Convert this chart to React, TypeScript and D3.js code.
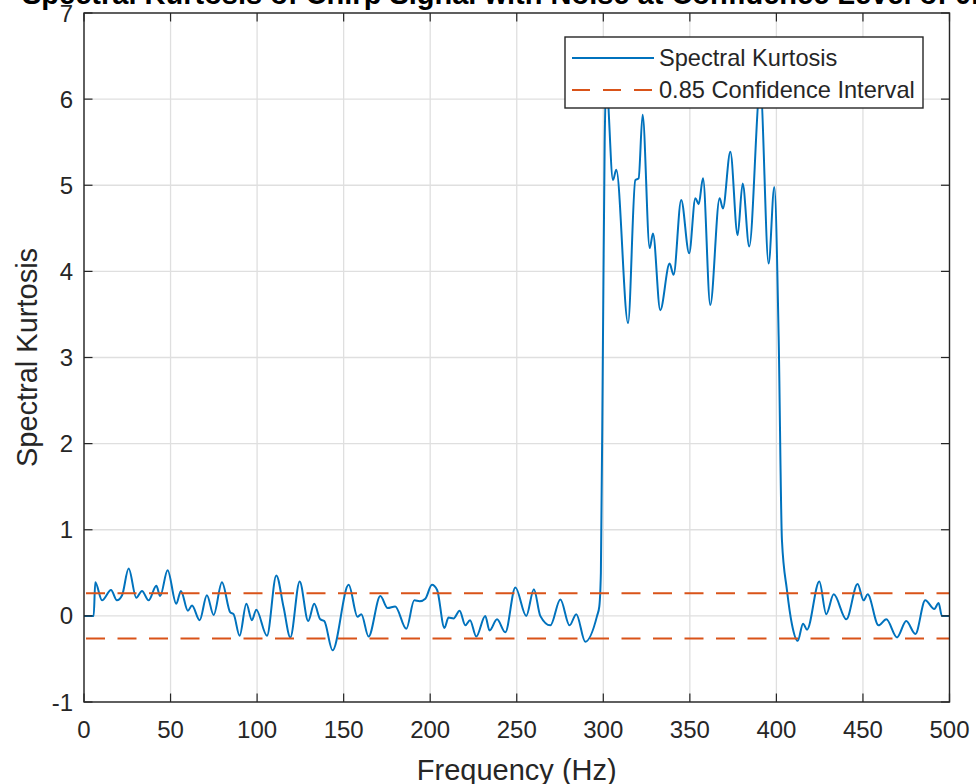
import React from "react";
import * as d3 from "d3";

const freqHz = [
  0, 5.6, 6.5, 10.4, 15.6, 19, 22, 25.8, 30.2, 33.5, 37.3, 41.8, 44, 48.3, 53.3, 56, 60, 62.4, 66.8, 71,
  74.9, 79.7, 84.5, 86.4, 89.9, 93.8, 97, 99.5, 105.7, 111.1, 115.3, 119.2, 124.6, 129.5, 133, 136.5,
  138.8, 143.6, 152.9, 158, 160.2, 164.4, 171.2, 175.4, 179.8, 186.2, 190.8, 193.9, 197.2, 201, 204,
  208.2, 210.6, 213.5, 217, 220.3, 223, 226.6, 231.8, 234.3, 238.6, 243.4, 249.2, 255.5, 259.9, 263.6,
  269.4, 275.2, 280.5, 284.4, 289.6, 296.4, 297.7, 298.6, 299.8, 300.8, 301.7, 305.6, 307.5, 314.3,
  318.5, 320.4, 322.7, 326.8, 328.7, 332.9, 338.3, 340.6, 345, 349.6, 353.2, 355.1, 357.6, 361.8, 367.2,
  369.1, 373.4, 377.6, 380.5, 384.3, 390.7, 395.5, 398.8, 401.3, 403.2, 406.1, 409, 412.3, 415.4, 417.7,
  424.8, 428.8, 433.1, 440.4, 446.9, 450.4, 452.7, 459, 463.5, 469.7, 475, 480.3, 486, 491.2, 493.7,
  495.6, 500,
];

const kurtosis = [
  0, 0, 0.39, 0.18, 0.3, 0.18, 0.24, 0.55, 0.21, 0.29, 0.18, 0.35, 0.23, 0.53, 0.14, 0.29, 0.06, 0.12, -0.05, 0.24,
  0.01, 0.39, 0.04, 0.02, -0.23, 0.14, -0.05, 0.07, -0.23, 0.47, 0.1, -0.25, 0.4, -0.06, 0.14, -0.04,
  -0.06, -0.4, 0.36, -0.01, 0.02, -0.24, 0.23, 0.09, 0.11, -0.15, 0.18, 0.17, 0.2, 0.36, 0.3,
  -0.14, -0.02, -0.03, 0.06, -0.11, -0.05, -0.24, 0.0, -0.17, -0.04, -0.19, 0.33, 0.0, 0.31, 0.0,
  -0.11, 0.19, -0.11, 0.02, -0.3, 0.0, 0.11, 0.5, 3.2, 5.5, 6.2, 5.06, 5.18, 3.4,
  5.06, 5.08, 5.82, 4.27, 4.44, 3.55, 4.09, 3.96, 4.83, 4.21, 4.85, 4.78, 5.08, 3.61, 4.85,
  4.73, 5.39, 4.42, 5.02, 4.29, 6.15, 4.09, 4.98, 3.24, 0.88, 0.3, -0.1, -0.29, -0.09, -0.16,
  0.4, 0.02, 0.25, -0.04, 0.37, 0.18, 0.25, -0.11, -0.04, -0.25, -0.06, -0.21, 0.18, 0.08, 0.15,
  0.0, 0.0,
];

const confidenceBounds = [0.263, -0.263];
const xTicks = [0, 50, 100, 150, 200, 250, 300, 350, 400, 450, 500];
const yTicks = [-1, 0, 1, 2, 3, 4, 5, 6, 7];
const legendLabels = ["Spectral Kurtosis", "0.85 Confidence Interval"];
const titleText = "Spectral Kurtosis of Chirp Signal with Noise at Confidence Level of 0.85";
const xLabel = "Frequency (Hz)";
const yLabel = "Spectral Kurtosis";

const W = 976;
const H = 784;
const left = 84;
const right = 949.5;
const top = 13;
const bottom = 702;
const BLUE = "#0072BD";
const ORANGE = "#D95319";
const AX = "#262626";
const GRID = "#dfdfdf";
const FONT = "'Liberation Sans', Arial, Helvetica, sans-serif";

export default function App() {
  const x = d3.scaleLinear().domain([0, 500]).range([left, right]);
  const y = d3.scaleLinear().domain([-1, 7]).range([bottom, top]);
  const pts: [number, number][] = freqHz.map((f, i) => [f, kurtosis[i]]);
  const line = d3
    .line<[number, number]>()
    .x((d) => x(d[0]))
    .y((d) => y(d[1]))
    .curve(d3.curveMonotoneX);
  const tickLen = 8.5;

  const legX = 565;
  const legY = 37;
  const legW = 358;
  const legH = 71;

  return (
    <svg
      width={W}
      height={H}
      style={{ position: "absolute", left: 0, top: 0, background: "#fff" }}
      fontFamily={FONT}
    >
      <rect x={0} y={0} width={W} height={H} fill="#fff" />
      <defs>
        <clipPath id="plotclip">
          <rect x={left} y={top} width={right - left} height={bottom - top} />
        </clipPath>
      </defs>
      {xTicks.map((t) => (
        <line key={"gx" + t} x1={x(t)} x2={x(t)} y1={top} y2={bottom} stroke={GRID} strokeWidth={1.3} />
      ))}
      {yTicks.map((t) => (
        <line key={"gy" + t} x1={left} x2={right} y1={y(t)} y2={y(t)} stroke={GRID} strokeWidth={1.3} />
      ))}
      <g clipPath="url(#plotclip)">
        <path d={line(pts) || ""} fill="none" stroke={BLUE} strokeWidth={2} strokeLinejoin="round" />
        {confidenceBounds.map((c, i) => (
          <line
            key={"c" + i}
            x1={x(0)}
            x2={x(500)}
            y1={y(c)}
            y2={y(c)}
            stroke={ORANGE}
            strokeWidth={2}
            strokeDasharray="19,12.5"
            strokeDashoffset={-2}
          />
        ))}
      </g>
      {xTicks.map((t) => (
        <g key={"tx" + t}>
          <line x1={x(t)} x2={x(t)} y1={bottom} y2={bottom - tickLen} stroke={AX} strokeWidth={1.2} />
          <line x1={x(t)} x2={x(t)} y1={top} y2={top + tickLen} stroke={AX} strokeWidth={1.2} />
          <text x={x(t)} y={738} textAnchor="middle" fontSize={24} fill={AX}>
            {t}
          </text>
        </g>
      ))}
      {yTicks.map((t) => (
        <g key={"ty" + t}>
          <line x1={left} x2={left + tickLen} y1={y(t)} y2={y(t)} stroke={AX} strokeWidth={1.2} />
          <line x1={right} x2={right - tickLen} y1={y(t)} y2={y(t)} stroke={AX} strokeWidth={1.2} />
          <text x={73} y={y(t) + 8.5} textAnchor="end" fontSize={24} fill={AX}>
            {t}
          </text>
        </g>
      ))}
      <rect x={left} y={top} width={right - left} height={bottom - top} fill="none" stroke={AX} strokeWidth={1.4} />
      <text x={(left + right) / 2} y={780} textAnchor="middle" fontSize={29} fill={AX}>
        {xLabel}
      </text>
      <text
        transform={`translate(37,${(top + bottom) / 2}) rotate(-90)`}
        textAnchor="middle"
        fontSize={29}
        fill={AX}
      >
        {yLabel}
      </text>
      <text x={(left + right) / 2} y={4} textAnchor="middle" fontSize={29} fontWeight="bold" fill="#000">
        {titleText}
      </text>
      <rect x={legX} y={legY} width={legW} height={legH} fill="#fff" stroke={AX} strokeWidth={1.4} />
      <line x1={572} x2={654} y1={58} y2={58} stroke={BLUE} strokeWidth={2} />
      <line x1={572} x2={654} y1={90} y2={90} stroke={ORANGE} strokeWidth={2} strokeDasharray="18,13" />
      <text x={659} y={66} fontSize={23.6} fill={AX}>
        {legendLabels[0]}
      </text>
      <text x={659} y={98} fontSize={23.6} fill={AX}>
        {legendLabels[1]}
      </text>
    </svg>
  );
}
